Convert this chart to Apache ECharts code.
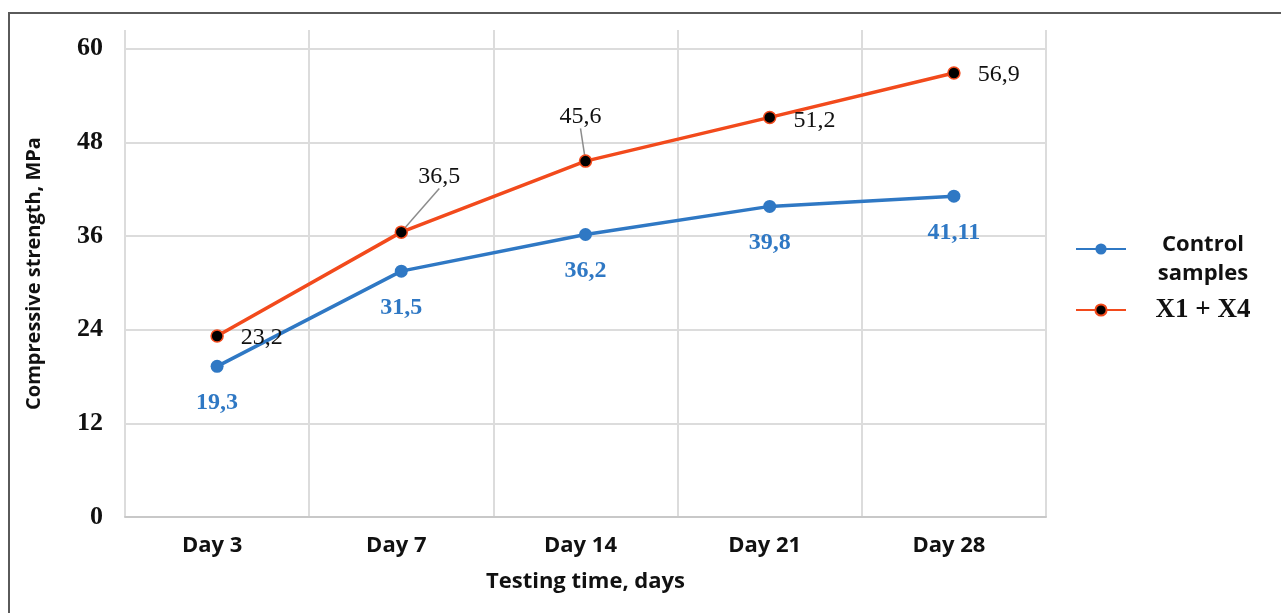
<!DOCTYPE html>
<html>
<head>
<meta charset="utf-8">
<script src="https://cdn.jsdelivr.net/npm/echarts@6/dist/echarts.min.js"></script>
<style>
  html, body { margin: 0; padding: 0; background: #fff; }
  #main { width: 1281px; height: 613px; }
</style>
</head>
<body>
<div id="main"></div>
<script>
var days = ['Day 3', 'Day 7', 'Day 14', 'Day 21', 'Day 28'];
var controlSamples = [19.3, 31.5, 36.2, 39.8, 41.11];
var x1x4 = [23.2, 36.5, 45.6, 51.2, 56.9];
var yTicks = [0, 12, 24, 36, 48, 60];

var blue = '#2f78c4';
var red = '#f24a1c';

// comma as decimal separator, like the original
var fmt = function (v) { return String(v).replace('.', ','); };

var myChart = echarts.init(document.getElementById('main'));

// label tweaks per point of the X1 + X4 line
var redLabelPos = ['right', 'top', 'top', 'right', 'right'];
var redShift = [[0, 2], [38, -29], [-5, -18], [0, 3], [0, 2]];

var option = {
    backgroundColor: '#ffffff',
    animation: false,
    graphic: [{
        type: 'rect',
        shape: { x: 9, y: 13, width: 1400, height: 800 },
        style: { fill: null, stroke: '#5a5a5a', lineWidth: 2 }
    }],
    grid: { left: 125, right: 235, top: 30, bottom: 96 },
    legend: {
        orient: 'vertical',
        left: 1070,
        top: 205,
        itemWidth: 50,
        itemHeight: 14,
        itemGap: 12,
        data: ['Control samples', 'X1 + X4'],
        formatter: function (name) {
            if (name === 'Control samples') return '{p|}\n{s|Control}\n{s|samples}';
            return '{x|' + name + '}';
        },
        textStyle: {
            rich: {
                p: { height: 20, lineHeight: 20, width: 144 },
                s: { fontFamily: 'Open Sans', fontWeight: 'bold', fontSize: 22, color: '#111', width: 144, align: 'center', lineHeight: 29 },
                x: { fontFamily: 'Liberation Serif', fontWeight: 'bold', fontSize: 27, color: '#111', width: 144, align: 'center', lineHeight: 30 }
            }
        }
    },
    xAxis: {
        type: 'category',
        data: days,
        boundaryGap: true,
        name: 'Testing time, days',
        nameLocation: 'middle',
        nameGap: 54,
        nameTextStyle: { fontFamily: 'Open Sans', fontWeight: 'bold', fontSize: 22, color: '#111' },
        axisTick: { show: false },
        axisLine: { lineStyle: { color: '#c8c8c8', width: 2 } },
        axisLabel: { fontFamily: 'Open Sans', fontWeight: 'bold', fontSize: 22, color: '#111', margin: 18, padding: [0, 10, 0, 0] },
        splitLine: { show: true, lineStyle: { color: '#dcdcdc', width: 2 } }
    },
    yAxis: {
        type: 'value',
        min: 0,
        max: 62.4,
        interval: 12,
        name: 'Compressive strength, MPa',
        nameLocation: 'middle',
        nameGap: 81,
        nameTextStyle: { fontFamily: 'Open Sans', fontWeight: 'bold', fontSize: 20, color: '#111' },
        axisLine: { show: false },
        axisTick: { show: false },
        axisLabel: {
            fontFamily: 'Liberation Serif', fontWeight: 'bold', fontSize: 26, color: '#111', margin: 22,
            showMaxLabel: false,
            formatter: function (v) { return yTicks.indexOf(v) >= 0 ? String(v) : ''; }
        },
        splitLine: { show: true, showMaxLine: false, lineStyle: { color: '#dcdcdc', width: 2 } }
    },
    series: [
        {
            name: 'Control samples',
            type: 'line',
            data: controlSamples,
            symbol: 'circle',
            symbolSize: 13,
            lineStyle: { color: blue, width: 3.5 },
            itemStyle: { color: blue },
            label: {
                show: true,
                position: 'bottom',
                distance: 18,
                fontFamily: 'Liberation Serif',
                fontWeight: 'bold',
                fontSize: 24,
                color: blue,
                formatter: function (p) { return fmt(p.value); }
            },
            z: 2
        },
        {
            name: 'X1 + X4',
            type: 'line',
            data: x1x4.map(function (v, i) {
                return {
                    value: v,
                    label: { position: redLabelPos[i], distance: redLabelPos[i] === 'right' ? 17 : 8 },
                    labelLine: { show: i === 1 || i === 2 }
                };
            }),
            symbol: 'circle',
            symbolSize: 12,
            lineStyle: { color: red, width: 3.5 },
            itemStyle: { color: '#000', borderColor: red, borderWidth: 1.5 },
            label: {
                show: true,
                fontFamily: 'Liberation Serif',
                fontSize: 24,
                color: '#111',
                formatter: function (p) { return fmt(p.value); }
            },
            labelLine: { lineStyle: { color: '#8c8c8c', width: 1.5 } },
            labelLayout: function (params) {
                var s = redShift[params.dataIndex];
                return { dx: s[0], dy: s[1] };
            },
            z: 3
        }
    ]
};

myChart.setOption(option);
</script>
</body>
</html>
